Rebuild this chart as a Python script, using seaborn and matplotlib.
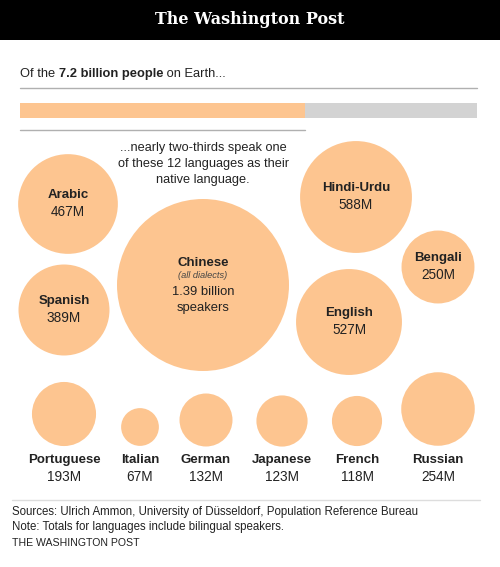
import matplotlib
matplotlib.use("Agg")
import matplotlib.pyplot as plt
import seaborn as sns
import pandas as pd

# native speakers, millions
languages = ["Chinese", "Hindi-Urdu", "English", "Arabic", "Spanish", "Bengali",
             "Portuguese", "Italian", "German", "Japanese", "French", "Russian"]
speakers = [1390, 588, 527, 467, 389, 250, 193, 67, 132, 123, 118, 254]
value_labels = ["1.39 billion", "588M", "527M", "467M", "389M", "250M",
                "193M", "67M", "132M", "123M", "118M", "254M"]
world_pop = 7200

# bubble layout (pixel positions on the 500x567 canvas)
pos_x = [203, 356, 349, 68, 64, 438, 64, 140, 206, 282, 357, 438]
pos_y = [285, 197, 322, 204, 310, 267, 414, 427, 420, 421, 421, 409]
bottom_row = ["Portuguese", "Italian", "German", "Japanese", "French", "Russian"]

ORANGE = "#fdc590"
GRAY = "#d3d3d3"
INK = "#222222"
LINE = "#b0b0b0"

sns.set_theme(style="white")
plt.rcParams["font.family"] = ["Liberation Sans", "DejaVu Sans"]

W, H = 500, 567
fig = plt.figure(figsize=(W / 100, H / 100), dpi=100)
ax = fig.add_axes([0, 0, 1, 1])
ax.set_xlim(0, W)
ax.set_ylim(H, 0)
ax.axis("off")

# header band
ax.fill_between([0, W], 0, 40, color="black", lw=0)
ax.text(W / 2, 19, "The Washington Post", color="white", ha="center", va="center",
        fontsize=11.5, fontweight="bold", family=["DejaVu Serif"])

# intro line with a bold part
fig.canvas.draw()
r = fig.canvas.get_renderer()
x0 = 20
parts = [("Of the ", "normal"), ("7.2 billion people", "bold"), (" on Earth...", "normal")]
for txt, wt in parts:
    t = ax.text(x0, 74, txt, fontsize=9.3, fontweight=wt, color=INK, va="center", ha="left")
    bb = t.get_window_extent(renderer=r)
    x0 += bb.width
ax.plot([20, 477], [88, 88], color=LINE, lw=1)

# share bar
bax = fig.add_axes([20 / W, 1 - 118 / H, 457 / W, 15 / H])
total = sum(speakers)
bax.barh([0], [world_pop], color=GRAY, height=1, lw=0)
bax.barh([0], [total], color=ORANGE, height=1, lw=0)
bax.set_xlim(0, world_pop)
bax.set_ylim(-0.5, 0.5)
bax.axis("off")
ax.plot([20, 20 + 457 * total / world_pop], [130, 130], color=LINE, lw=1)

ax.text(203, 164, "...nearly two-thirds speak one\nof these 12 languages as their\nnative language.",
        ha="center", va="center", fontsize=9.2, color=INK, linespacing=1.5)

# bubbles, area proportional to speakers
df = pd.DataFrame({"language": languages, "speakers": speakers, "x": pos_x, "y": pos_y})
r_max_pt = 2 * 86 * 0.72
sns.scatterplot(data=df, x="x", y="y", size="speakers", sizes=(0, r_max_pt ** 2),
                size_norm=(0, max(speakers)), color=ORANGE, linewidth=0,
                legend=False, ax=ax, zorder=2)
ax.set_xlim(0, W)
ax.set_ylim(H, 0)
ax.axis("off")

for lang, lab, x, y in zip(languages, value_labels, pos_x, pos_y):
    if lang == "Chinese":
        ax.text(x, y - 22, lang, ha="center", va="center", fontsize=9.5, fontweight="bold", color=INK)
        ax.text(x, y - 9, "(all dialects)", ha="center", va="center", fontsize=6.7,
                style="italic", color="#444444")
        ax.text(x, y + 7, lab, ha="center", va="center", fontsize=9.4, color=INK)
        ax.text(x, y + 23, "speakers", ha="center", va="center", fontsize=9.4, color=INK)
    elif lang in bottom_row:
        ax.text(x, 460, lang, ha="center", va="center", fontsize=9.5, fontweight="bold", color=INK)
        ax.text(x, 477, lab, ha="center", va="center", fontsize=9.8, color=INK)
    else:
        ax.text(x, y - 9, lang, ha="center", va="center", fontsize=9.5, fontweight="bold", color=INK)
        ax.text(x, y + 8, lab, ha="center", va="center", fontsize=9.8, color=INK)

# footer
ax.plot([12, 480], [500, 500], color="#dddddd", lw=1)
ax.text(12, 512, "Sources: Ulrich Ammon, University of Düsseldorf, Population Reference Bureau",
        fontsize=8.3, color=INK, va="center")
ax.text(12, 527, "Note: Totals for languages include bilingual speakers.",
        fontsize=8.3, color=INK, va="center")
ax.text(12, 543, "THE WASHINGTON POST", fontsize=7.6, color=INK, va="center")

fig.savefig("out.png", dpi=100, facecolor="white")
